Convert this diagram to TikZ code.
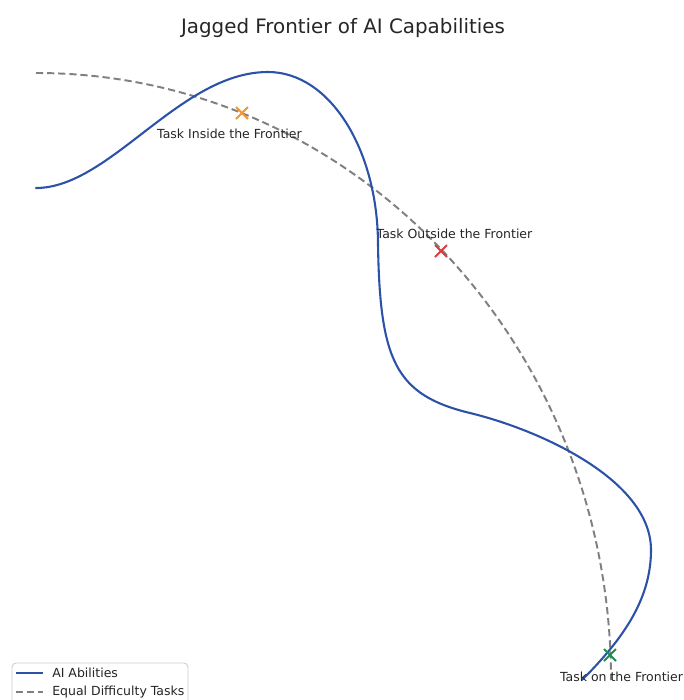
\documentclass[tikz,border=0pt]{standalone}
\usepackage{fontspec}
\setmainfont{DejaVu Sans}
\usetikzlibrary{calc}
\definecolor{aiblue}{RGB}{44,82,168}
\definecolor{dgray}{RGB}{128,128,128}
\definecolor{txt}{RGB}{38,38,38}
\definecolor{morange}{RGB}{240,150,50}
\definecolor{mred}{RGB}{220,60,60}
\definecolor{mgreen}{RGB}{30,140,80}
\definecolor{legbox}{RGB}{204,204,204}
\tikzset{
  ability/.style={aiblue, line width=1.5pt, line join=round, line cap=round},
  equal/.style={dgray, line width=1.4pt, dash pattern=on 5.2pt off 2.8pt},
  xmark/.style={line width=1.3pt},
  lbl/.style={text=txt, font=\fontsize{9}{11}\selectfont, inner sep=0pt},
}
\begin{document}
\begin{tikzpicture}[x=0.72pt, y=-0.72pt]
\clip (0,0) rectangle (684,700);
\fill[white] (0,0) rectangle (684,700);
% title
\node[text=txt, font=\fontsize{14.3}{16}\selectfont, inner sep=0pt] (title) at (343,28) {Jagged Frontier of AI Capabilities};
% equal difficulty arc (quarter ellipse)
\coordinate (arcstart) at (36,73);
\draw[equal] (arcstart) arc[start angle=90, end angle=0, x radius=575, y radius=-607];
% AI abilities curve
\coordinate (c0) at (36,188);
\coordinate (c1) at (268,72);
\coordinate (c2) at (378,245);
\coordinate (c3) at (470,413);
\coordinate (c4) at (651,550);
\coordinate (c5) at (582,680);
\draw[ability] (c0) .. controls (110,188) and (180,72) .. (c1)
  .. controls (330,72) and (378,150) .. (c2)
  .. controls (380,360) and (395,395) .. (c3)
  .. controls (540,430) and (651,480) .. (c4)
  .. controls (651,600) and (622,640) .. (c5);
% markers
\coordinate (tin) at (242,113);
\coordinate (tout) at (441,251);
\coordinate (ton) at (610,655);
\draw[xmark, morange] ($(tin)+(-6,-6)$) -- ($(tin)+(6,6)$) ($(tin)+(-6,6)$) -- ($(tin)+(6,-6)$);
\draw[xmark, mred] ($(tout)+(-6,-6)$) -- ($(tout)+(6,6)$) ($(tout)+(-6,6)$) -- ($(tout)+(6,-6)$);
\draw[xmark, mgreen] ($(ton)+(-6,-6)$) -- ($(ton)+(6,6)$) ($(ton)+(-6,6)$) -- ($(ton)+(6,-6)$);
% labels
\node[lbl] (lin) at (229.5,134) {Task Inside the Frontier};
\node[lbl] (lout) at (454.5,234) {Task Outside the Frontier};
\node[lbl] (lon) at (621.5,677) {Task on the Frontier};
% legend
\draw[legbox, fill=white, fill opacity=0.8, line width=0.6pt, rounded corners=3pt] (12,663) rectangle (188,712);
\coordinate (la1) at (16,673);
\coordinate (la2) at (43,673);
\coordinate (lb1) at (16,692);
\coordinate (lb2) at (43,692);
\draw[ability, line cap=butt] (la1) -- (la2);
\draw[equal] (lb1) -- (lb2);
\node[lbl, anchor=west] (lega) at (52,673) {AI Abilities};
\node[lbl, anchor=west] (legb) at (52,692) {Equal Difficulty Tasks};
\end{tikzpicture}
\end{document}
